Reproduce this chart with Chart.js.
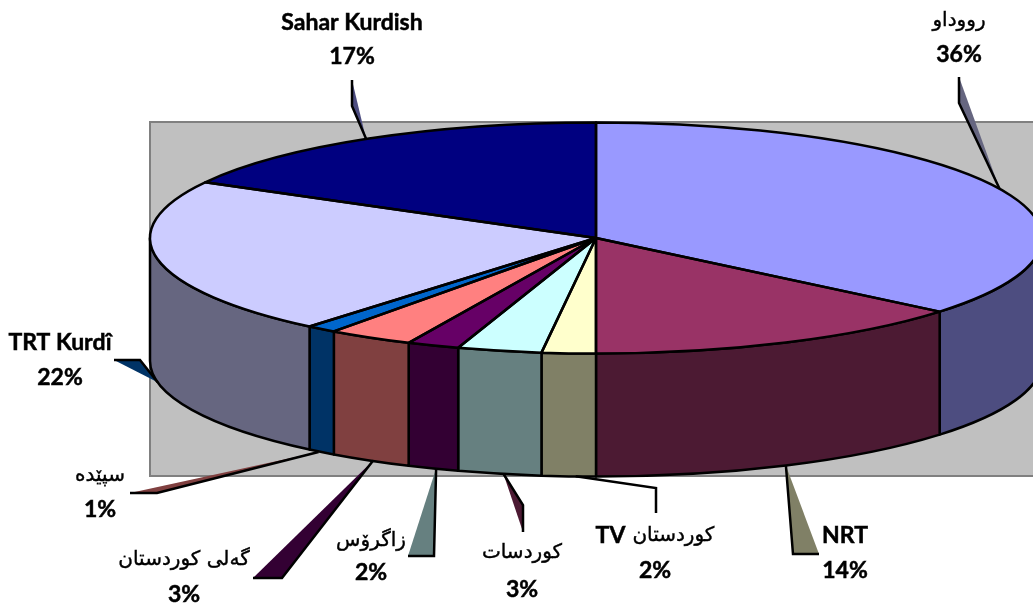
<!DOCTYPE html>
<html>
<head>
<meta charset="utf-8">
<style>
    html, body { margin: 0; padding: 0; background: #fff; overflow: hidden; }
    #box { width: 1033px; height: 603px; }
</style>
<script src="https://cdn.jsdelivr.net/npm/chart.js@4/dist/chart.umd.min.js"></script>
</head>
<body>
<div id="box"><canvas id="pie" width="1033" height="603"></canvas></div>
<script>
// Data (the labels show them rounded)
const channels = ['رووداو', 'NRT', 'کوردستان TV', 'کوردسات', 'زاگرۆس', 'گەلی کوردستان', 'سپێدە', 'TRT Kurdî', 'Sahar Kurdish'];
const shares = [36, 14, 1.95, 3.05, 1.9, 3.1, 1.1, 21.9, 17];

// Colours
const topColors = ['#9999FF', '#993366', '#FFFFCC', '#CCFFFF', '#660066', '#FF8080', '#0066CC', '#CCCCFF', '#000080'];
const wallColors = ['#4D4D80', '#4C1A33', '#808066', '#668080', '#330033', '#804040', '#003366', '#666680', '#000040'];
const leaderColors = ['#666680', '#808066', null, '#4C1A33', '#668080', '#330033', '#804040', '#003366', '#4D4D80'];

// Layout of the tilted pie
const PIE_Y = 238;
const RADIUS = 446;
const SQUASH = 115.5 / 446;
const DEPTH = 123;
const LINE = 2.5;
const PLOT = { x: 150, y: 122, w: 900, h: 354 };
const LATIN_FONT = 'bold 23px Lato';
const ARABIC_FONT = '20px "DejaVu Sans"';

// Label centres [x, first line y, second line y]
const labelSpots = [[959, 21, 55], [845, 536, 571], [655, 536, 571], [522, 553, 590], [371, 541, 573], [184, 560, 595], [100, 476, 510], [60, 343, 378], [352, 23, 57]];
// Callout bends, from the label end towards the pie
const leaderBends = [
    [[959, 77], [959, 103]],
    [[819, 554], [793, 554]],
    [[656, 513], [656, 488]],
    [[523, 532], [523, 505]],
    [[408, 556], [434, 556]],
    [[253, 578], [282, 578]],
    [[130, 493], [157, 493]],
    [[114, 360], [140, 360]],
    [[352, 80], [352, 106]]
];
// Excel does not end its callouts quite on the slice middle
const anchorShifts = [0, 0, 7, 4, 3, 3, -3, 0, -3];

function elementos(chart) {
    return chart.getDatasetMeta(0).data;
}

function midAngle(arc) {
    return (arc.startAngle + arc.endAngle) / 2;
}

// Outlined text so the fonts get as heavy as the original
function escreve(ctx, text, x, y, font) {
    ctx.font = font;
    ctx.fillText(text, x, y);
    ctx.lineWidth = font === LATIN_FONT ? 0.5 : 0.4;
    ctx.strokeStyle = '#000';
    ctx.strokeText(text, x, y);
}

function escreveNome(ctx, name, x, y) {
    const mixed = name.match(/^(.*[\u0600-\u06FF])\s+([A-Za-z]+)$/);
    if (mixed) {
        // Arabic on the right, Latin on the left, each in its own font
        ctx.font = ARABIC_FONT;
        const w1 = ctx.measureText(mixed[1]).width;
        ctx.font = LATIN_FONT;
        const w2 = ctx.measureText(mixed[2]).width;
        const gap = 7;
        const left = x - (w1 + w2 + gap) / 2;
        ctx.direction = 'ltr';
        escreve(ctx, mixed[2], left + w2 / 2, y, LATIN_FONT);
        ctx.direction = 'rtl';
        escreve(ctx, mixed[1], left + w2 + gap + w1 / 2, y, ARABIC_FONT);
        ctx.direction = 'ltr';
    } else if (/[\u0600-\u06FF]/.test(name)) {
        ctx.direction = 'rtl';
        escreve(ctx, name, x, y, ARABIC_FONT);
        ctx.direction = 'ltr';
    } else {
        escreve(ctx, name, x, y, LATIN_FONT);
    }
}

// Grey plot area behind the pie
const plotBackground = {
    id: 'plotBackground',
    beforeDatasetsDraw(chart) {
        const ctx = chart.ctx;
        ctx.save();
        ctx.fillStyle = '#C0C0C0';
        ctx.strokeStyle = '#808080';
        ctx.lineWidth = 2;
        ctx.fillRect(PLOT.x, PLOT.y, PLOT.w, PLOT.h);
        ctx.strokeRect(PLOT.x, PLOT.y, PLOT.w, PLOT.h);
        ctx.restore();
    }
};

// Walls of the front half, then squash the slices the library draws
const tiltedPie = {
    id: 'tiltedPie',
    beforeDatasetsDraw(chart) {
        const ctx = chart.ctx;
        const arcs = elementos(chart);
        ctx.save();
        ctx.lineWidth = LINE;
        ctx.strokeStyle = '#000';
        ctx.lineJoin = 'round';
        arcs.forEach((arc, i) => {
            const from = Math.max(arc.startAngle, 0);
            const to = Math.min(arc.endAngle, Math.PI);
            if (to <= from) return;
            const ry = arc.outerRadius * SQUASH;
            ctx.beginPath();
            ctx.ellipse(arc.x, PIE_Y, arc.outerRadius, ry, 0, from, to);
            ctx.ellipse(arc.x, PIE_Y + DEPTH, arc.outerRadius, ry, 0, to, from, true);
            ctx.closePath();
            ctx.fillStyle = wallColors[i];
            ctx.fill();
            ctx.stroke();
        });
        ctx.restore();

        ctx.save();
        ctx.translate(0, PIE_Y);
        ctx.scale(1, SQUASH);
        ctx.translate(0, -arcs[0].y);
    },
    afterDatasetsDraw(chart) {
        const ctx = chart.ctx;
        ctx.restore();

        // outlines are stroked here so the squash does not thin them
        ctx.save();
        ctx.lineWidth = LINE;
        ctx.strokeStyle = '#000';
        ctx.lineJoin = 'round';
        elementos(chart).forEach(arc => {
            ctx.beginPath();
            ctx.moveTo(arc.x, PIE_Y);
            ctx.ellipse(arc.x, PIE_Y, arc.outerRadius, arc.outerRadius * SQUASH, 0, arc.startAngle, arc.endAngle);
            ctx.closePath();
            ctx.stroke();
        });
        ctx.restore();
    }
};

// Callouts and the two line labels
const callouts = {
    id: 'callouts',
    afterDatasetsDraw(chart) {
        const ctx = chart.ctx;
        ctx.save();
        elementos(chart).forEach((arc, i) => {
            const a = midAngle(arc);
            const anchorX = arc.x + Math.cos(a) * arc.outerRadius + anchorShifts[i];
            let anchorY = PIE_Y + Math.sin(a) * arc.outerRadius * SQUASH;
            if (Math.sin(a) > 0) anchorY += DEPTH;

            const bends = leaderBends[i];
            if (leaderColors[i]) {
                ctx.beginPath();
                ctx.moveTo(bends[0][0], bends[0][1]);
                ctx.lineTo(bends[1][0], bends[1][1]);
                ctx.lineTo(anchorX, anchorY);
                ctx.closePath();
                ctx.fillStyle = leaderColors[i];
                ctx.fill();
            }
            ctx.beginPath();
            ctx.moveTo(bends[0][0], bends[0][1]);
            ctx.lineTo(bends[1][0], bends[1][1]);
            ctx.lineTo(anchorX, anchorY);
            ctx.lineWidth = LINE;
            ctx.strokeStyle = '#000';
            ctx.stroke();

            const spot = labelSpots[i];
            ctx.fillStyle = '#000';
            ctx.textAlign = 'center';
            ctx.textBaseline = 'middle';
            escreveNome(ctx, chart.data.labels[i], spot[0], spot[1]);
            escreve(ctx, Math.round(shares[i]) + '%', spot[0], spot[2], LATIN_FONT);
        });
        ctx.restore();
    }
};

const grafico = new Chart(document.getElementById('pie').getContext('2d'), {
    type: 'pie',
    data: {
        labels: channels,
        datasets: [{
            data: shares,
            backgroundColor: topColors,
            borderWidth: 0,
            clip: false
        }]
    },
    options: {
        responsive: false,
        animation: false,
        radius: RADIUS,
        layout: { padding: { left: 159 } },
        plugins: {
            legend: { display: false },
            tooltip: { enabled: false }
        }
    },
    plugins: [plotBackground, tiltedPie, callouts]
});
</script>
</body>
</html>
